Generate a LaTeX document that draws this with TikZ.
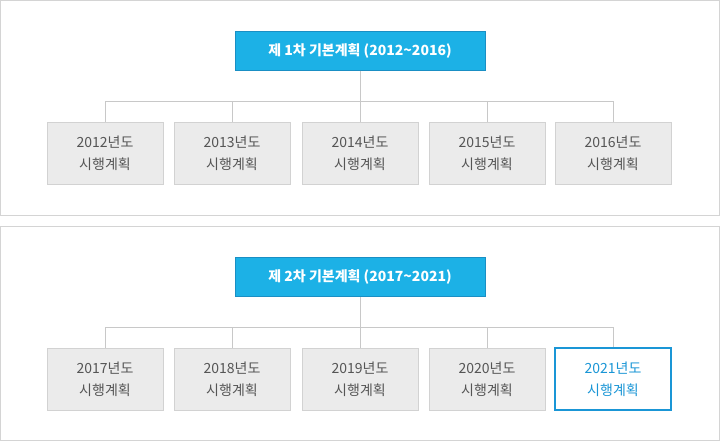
\documentclass[tikz,border=0pt]{standalone}
\usepackage{fontspec}
\setmainfont{Noto Sans CJK KR}
\definecolor{panelline}{HTML}{D4D4D4}
\definecolor{conn}{HTML}{C8C8C8}
\definecolor{topfill}{HTML}{1CB1E6}
\definecolor{topdraw}{HTML}{1A8FC4}
\definecolor{childfill}{HTML}{EBEBEB}
\definecolor{childdraw}{HTML}{D2D2D2}
\definecolor{childtext}{HTML}{555555}
\definecolor{hilite}{HTML}{1A96D6}
\tikzset{
  panel/.style={draw=panelline, line width=1pt, fill=white},
  topbox/.style={draw=topdraw, fill=topfill, line width=1pt, minimum width=250pt, minimum height=39pt, inner sep=0pt,
    text=white, font=\fontsize{14pt}{16pt}\selectfont\bfseries},
  childbox/.style={draw=childdraw, fill=childfill, line width=1pt, minimum width=116pt, minimum height=62pt, inner sep=0pt,
    text=childtext, align=center, font=\fontsize{14pt}{22pt}\selectfont},
  hibox/.style={childbox, draw=hilite, fill=white, line width=2pt, text=hilite},
  connector/.style={draw=conn, line width=1pt}
}
\begin{document}
\begin{tikzpicture}[x=1pt,y=-1pt]
\useasboundingbox (0,0) rectangle (720,442);
\fill[white] (0,0) rectangle (720,442);
\draw[panel] (0.5,0.5) rectangle (719.5,215.5);
\draw[panel] (0.5,226.5) rectangle (719.5,440.5);

% panel 1
\node[topbox] (t1) at (360,50.5) {제 1차 기본계획 (2012\textasciitilde 2016)};
\coordinate (h1) at (360,101.5);
\foreach \i/\x/\yr in {1/105/2012,2/232/2013,3/360/2014,4/487/2015,5/613/2016}{
  \node[childbox] (a\i) at (\x,153) {{\yr}년도\\시행계획};
}
\draw[connector] (t1.south) -- (h1);
\draw[connector] (a1.north) |- (h1) -| (a5.north);
\draw[connector] (a2.north) -- (a2.north |- h1);
\draw[connector] (a3.north) -- (h1);
\draw[connector] (a4.north) -- (a4.north |- h1);

% panel 2
\node[topbox] (t2) at (360,277) {제 2차 기본계획 (2017\textasciitilde 2021)};
\coordinate (h2) at (360,327.5);
\foreach \i/\x/\yr in {1/105/2017,2/232/2018,3/360/2019,4/487/2020}{
  \node[childbox] (b\i) at (\x,379) {{\yr}년도\\시행계획};
}
\node[hibox] (b5) at (613,379) {2021년도\\시행계획};
\draw[connector] (t2.south) -- (h2);
\draw[connector] (b1.north) |- (h2) -| (b5.north);
\draw[connector] (b2.north) -- (b2.north |- h2);
\draw[connector] (b3.north) -- (h2);
\draw[connector] (b4.north) -- (b4.north |- h2);
\end{tikzpicture}
\end{document}
